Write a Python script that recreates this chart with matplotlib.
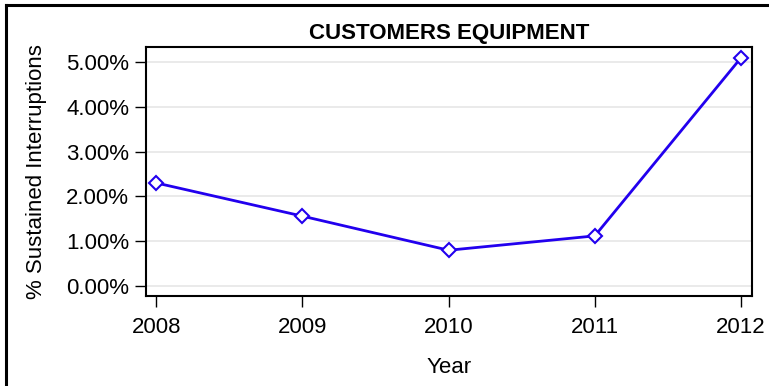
import matplotlib
matplotlib.use('Agg')
import matplotlib.pyplot as plt
from matplotlib.lines import Line2D
from matplotlib.ticker import FuncFormatter

years = [2008, 2009, 2010, 2011, 2012]
pct_sustained = [2.30, 1.56, 0.80, 1.12, 5.09]
y_ticks = [0, 1, 2, 3, 4, 5]

plt.rcParams['font.family'] = ['Liberation Sans', 'DejaVu Sans']

fig = plt.figure(figsize=(7.69, 3.86), dpi=100)
ax = fig.add_axes([146/769, 90/386, 606/769, 249/386])

for y in y_ticks:
    ax.axhline(y, color='#e6e6e6', lw=1.2, zorder=0)

ax.plot(years, pct_sustained, color='#2200ee', lw=2, marker='D', ms=7,
        mfc='white', mec='#2200ee', mew=1.5, zorder=3)

ax.set_xlim(2007.93, 2012.075)
ax.set_ylim(-0.22, 5.33)
ax.set_xticks(years)
ax.set_yticks(y_ticks)
ax.yaxis.set_major_formatter(FuncFormatter(lambda v, p: '%.2f%%' % v))
ax.tick_params(direction='out', length=8, width=1, labelsize=16, pad=4)
ax.tick_params(axis='x', pad=7)
for s in ax.spines.values():
    s.set_linewidth(1.5)

ax.set_xlabel('Year', fontsize=16, labelpad=14)
ax.set_ylabel('% Sustained Interruptions', fontsize=16, labelpad=14)
ax.set_title('CUSTOMERS EQUIPMENT', fontsize=16, fontweight='bold', pad=6)

# outer frame (top and left only)
fig.add_artist(Line2D([6/769, 6/769], [0, 381/386], color='black', lw=2.2, transform=fig.transFigure))
fig.add_artist(Line2D([6/769, 1], [381/386, 381/386], color='black', lw=2.2, transform=fig.transFigure))

fig.savefig('out.png', dpi=100)
